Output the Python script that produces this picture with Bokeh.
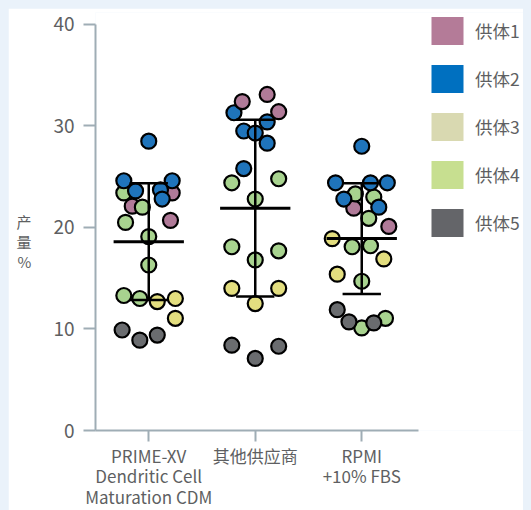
import numpy as np
from bokeh.plotting import figure
from bokeh.models import ColumnDataSource, FixedTicker, Legend, LegendItem, Range1d
from bokeh.embed import file_html
from bokeh.resources import INLINE

FONT = "Noto Sans CJK SC"

categories = ["PRIME-XV\nDendritic Cell\nMaturation CDM", "其他供应商", "RPMI\n+10% FBS"]
donors = ["供体1", "供体2", "供体3", "供体4", "供体5"]
y_ticks = [0, 10, 20, 30, 40]
y_title = "\n\n产\n量\n%"

# group 1: PRIME-XV  (values, jitter within category)
g1_d1 = [23.4, 22.1, 20.7]
g1_d1_j = [0.22, -0.155, 0.204]
g1_d2 = [28.5, 24.6, 24.6, 23.6, 23.7, 22.8]
g1_d2_j = [0.0, -0.234, 0.22, -0.124, 0.11, 0.126]
g1_d3 = [12.7, 13.0, 11.05]
g1_d3_j = [0.08, 0.25, 0.25]
g1_d4 = [23.4, 22.0, 20.5, 19.1, 16.3, 13.3, 13.0]
g1_d4_j = [-0.234, -0.06, -0.218, 0.0, 0.0, -0.234, -0.084]
g1_d5 = [9.9, 8.9, 9.4]
g1_d5_j = [-0.25, -0.084, 0.08]

# group 2: other supplier
g2_d1 = [32.4, 33.1, 31.4]
g2_d1_j = [-0.122, 0.112, 0.22]
g2_d2 = [31.3, 30.4, 29.5, 29.3, 28.3, 25.8]
g2_d2_j = [-0.2, 0.112, -0.108, 0.0, 0.112, -0.108]
g2_d3 = [14.0, 14.0, 12.5]
g2_d3_j = [-0.22, 0.22, 0.0]
g2_d4 = [24.4, 24.8, 22.8, 18.1, 17.7, 16.8]
g2_d4_j = [-0.22, 0.22, 0.0, -0.22, 0.22, 0.0]
g2_d5 = [8.4, 8.3, 7.1]
g2_d5_j = [-0.22, 0.22, 0.0]

# group 3: RPMI + 10% FBS
g3_d1 = [21.9, 20.1]
g3_d1_j = [-0.075, 0.254]
g3_d2 = [28.0, 24.4, 24.4, 24.4, 22.8, 22.0]
g3_d2_j = [0.0, -0.246, 0.082, 0.24, -0.168, 0.16]
g3_d3 = [18.9, 16.9, 15.4]
g3_d3_j = [-0.277, 0.207, -0.23]
g3_d4 = [23.3, 23.0, 20.9, 18.1, 18.2, 14.7, 10.1, 11.05]
g3_d4_j = [-0.06, 0.113, 0.066, -0.09, 0.082, 0.0, 0.0, 0.223]
g3_d5 = [11.9, 10.7, 10.6]
g3_d5_j = [-0.23, -0.12, 0.113]

means = [18.6, 21.9, 18.9]
sds = [5.75, 8.7, 5.45]

point_colors = ["#B07A98", "#1F74BB", "#E3DE7F", "#A8D38F", "#6A6C6F"]
legend_colors = ["#B47B98", "#0070C0", "#D9D9B1", "#C7DF90", "#646569"]

groups = [
    [(g1_d1, g1_d1_j), (g1_d2, g1_d2_j), (g1_d3, g1_d3_j), (g1_d4, g1_d4_j), (g1_d5, g1_d5_j)],
    [(g2_d1, g2_d1_j), (g2_d2, g2_d2_j), (g2_d3, g2_d3_j), (g2_d4, g2_d4_j), (g2_d5, g2_d5_j)],
    [(g3_d1, g3_d1_j), (g3_d2, g3_d2_j), (g3_d3, g3_d3_j), (g3_d4, g3_d4_j), (g3_d5, g3_d5_j)],
]
draw_orders = [[0, 3, 2, 4, 1], [1, 3, 2, 4, 0], [0, 3, 2, 4, 1]]

xs, ys, cs = [], [], []
for gi, grp in enumerate(groups):
    for di in draw_orders[gi]:
        vals, jit = grp[di]
        for v, j in zip(vals, jit):
            xs.append(gi + 1 + j)
            ys.append(v)
            cs.append(point_colors[di])
pts = ColumnDataSource(dict(x=xs, y=ys, c=cs))

# frame spans the legend area too; axes are bounded to the data region
PX_PER_X = 106.5
PX_PER_Y = 10.225
W, H = 523, 504
ML, MT, MB = 87, 4, 79
x_end = 0.5 + (W - ML) / PX_PER_X
y_end = (H - MT - MB) / PX_PER_Y

p = figure(width=W, height=H, output_backend="svg", toolbar_location=None,
           x_range=Range1d(0.5, x_end), y_range=Range1d(0, y_end),
           min_border_left=ML, min_border_right=0, min_border_top=MT, min_border_bottom=MB)
p.background_fill_color = "white"
p.border_fill_color = "white"
p.outline_line_color = None
p.xgrid.visible = False
p.ygrid.visible = False

p.scatter("x", "y", source=pts, size=15, fill_color="c", line_color="black", line_width=2.2)

cx = np.arange(1, len(categories) + 1)
m = np.array(means)
s = np.array(sds)
p.segment(x0=cx, x1=cx, y0=m - s, y1=m + s, line_color="black", line_width=2.5)
p.segment(x0=cx - 0.18, x1=cx + 0.18, y0=m + s, y1=m + s, line_color="black", line_width=2.5)
p.segment(x0=cx - 0.18, x1=cx + 0.18, y0=m - s, y1=m - s, line_color="black", line_width=2.5)
p.segment(x0=cx - 0.33, x1=cx + 0.33, y0=m, y1=m, line_color="black", line_width=3)

axis_color = "#9FADB5"
text_color = "#5E5F62"
for ax in (p.xaxis[0], p.yaxis[0]):
    ax.axis_line_color = axis_color
    ax.axis_line_width = 2
    ax.major_tick_line_color = axis_color
    ax.major_tick_line_width = 2
    ax.major_tick_in = 0
    ax.minor_tick_line_color = None
    ax.major_label_text_font = FONT
    ax.major_label_text_color = text_color

p.yaxis.bounds = (y_ticks[0], y_ticks[-1])
p.yaxis.ticker = FixedTicker(ticks=y_ticks)
p.yaxis.major_tick_out = 12
p.yaxis.major_label_standoff = 9
p.yaxis.major_label_text_font_size = "19px"
p.yaxis.axis_label = y_title
p.yaxis.axis_label_orientation = "horizontal"
p.yaxis.axis_label_text_font = FONT
p.yaxis.axis_label_text_font_size = "15px"
p.yaxis.axis_label_text_font_style = "normal"
p.yaxis.axis_label_text_color = text_color
p.yaxis.axis_label_text_line_height = 0.95
p.yaxis.axis_label_standoff = 19

p.xaxis.bounds = (0.5, 3.53)
p.xaxis.ticker = FixedTicker(ticks=list(cx))
p.xaxis.major_label_overrides = {int(i + 1): c for i, c in enumerate(categories)}
p.xaxis.major_tick_out = 11
p.xaxis.major_label_standoff = 1
p.xaxis.major_label_text_font_size = "17px"
p.xaxis.major_label_text_line_height = 0.83

items = []
for d, c in zip(donors, legend_colors):
    r = p.quad(left=[np.nan], right=[np.nan], top=[np.nan], bottom=[np.nan],
               fill_color=c, line_color=None)
    items.append(LegendItem(label=d, renderers=[r]))
legend = Legend(items=items, location=(332, 190), glyph_width=40, glyph_height=35,
                spacing=13, padding=0, margin=0, border_line_color=None,
                background_fill_alpha=0, label_standoff=8,
                label_text_font=FONT, label_text_font_size="17.5px", label_text_color=text_color)
p.add_layout(legend)

html = file_html(p, INLINE)
html = html.replace("</head>",
                    "<style>html{background-color:#EAF2FA;overflow:hidden;}"
                    "body{margin:8px !important;overflow:hidden;"
                    "background-color:#EAF2FA !important;}</style></head>", 1)
open("out.html", "w").write(html)
